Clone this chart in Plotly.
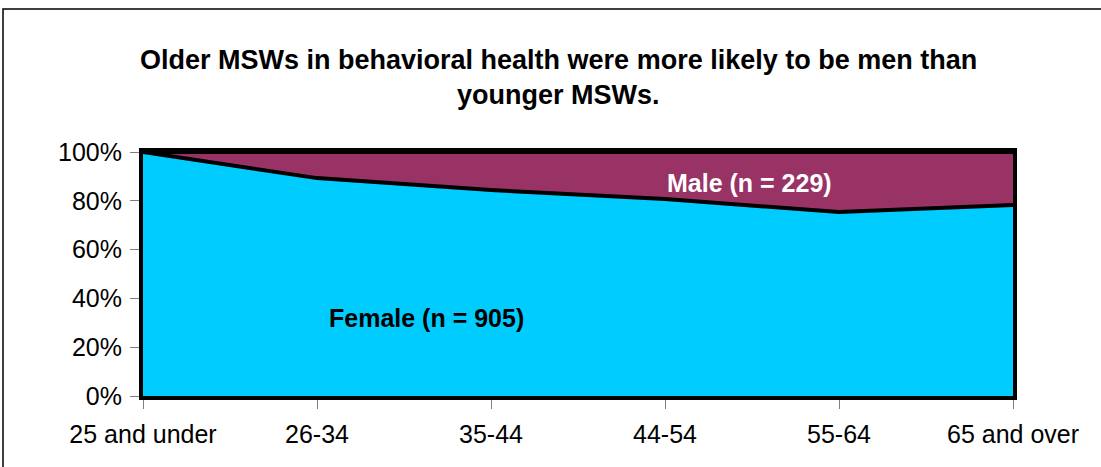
import plotly.graph_objects as go

categories = ["25 and under", "26-34", "35-44", "44-54", "55-64", "65 and over"]
female_pct = [100.0, 89.3, 84.4, 80.7, 75.4, 78.3]
male_pct = [0.0, 10.7, 15.6, 19.3, 24.6, 21.7]
y_ticks = [0, 20, 40, 60, 80, 100]
y_tick_text = ["0%", "20%", "40%", "60%", "80%", "100%"]

FONT = "Liberation Sans, Arial, sans-serif"

fig = go.Figure()
fig.add_trace(go.Scatter(
    x=categories, y=female_pct, stackgroup="one", mode="lines",
    line=dict(color="black", width=4), fillcolor="#00CCFF", name="Female",
    hoverinfo="x+y"))
fig.add_trace(go.Scatter(
    x=categories, y=male_pct, stackgroup="one", mode="lines",
    line=dict(color="black", width=4), fillcolor="#993366", name="Male",
    hoverinfo="x+y"))

L, R, T, B = 143, 88, 152, 71
W, H = 1101, 467
pw, ph = W - L - R, H - T - B

def px(x):
    return (x - L) / pw

def py(y):
    return (H - B - y) / ph

fig.add_shape(type="rect", xref="paper", yref="paper",
              x0=px(3), x1=px(1200), y0=py(600), y1=py(9),
              line=dict(color="black", width=1.5), layer="below")

def note(text, x, y, size, color):
    fig.add_annotation(text=text, xref="paper", yref="paper", x=px(x), y=py(y),
                       xanchor="center", yanchor="middle", showarrow=False,
                       font=dict(family=FONT, size=size, color=color))

note("<b>Older MSWs in behavioral health were more likely to be men than</b>", 558, 60, 27, "black")
note("<b>younger MSWs.</b>", 558, 95, 27, "black")
note("<b>Male (n = 229)</b>", 749, 183, 25, "white")
note("<b>Female (n = 905)</b>", 426, 318, 25, "black")

fig.update_layout(
    width=W, height=H,
    margin=dict(l=L, r=R, t=T, b=B),
    paper_bgcolor="white", plot_bgcolor="white",
    showlegend=False,
    font=dict(family=FONT, size=25, color="black"),
)
fig.update_xaxes(type="category", range=[0, 5], showgrid=False, zeroline=False,
                 showline=True, linecolor="black", linewidth=4, mirror=True,
                 ticks="outside", ticklen=9, tickcolor="#808080", tickwidth=1,
                 tickfont=dict(size=25), ticklabelstandoff=4)
fig.update_yaxes(range=[0, 100], tickvals=y_ticks, ticktext=y_tick_text,
                 showgrid=False, zeroline=False, showline=True, linecolor="black",
                 linewidth=4, mirror=True, ticks="outside", ticklen=9,
                 tickcolor="#808080", tickwidth=1, tickfont=dict(size=25),
                 ticklabelstandoff=3)

fig.write_html("out.html", config={"displayModeBar": False},
               post_script="document.body.style.margin='0';")
